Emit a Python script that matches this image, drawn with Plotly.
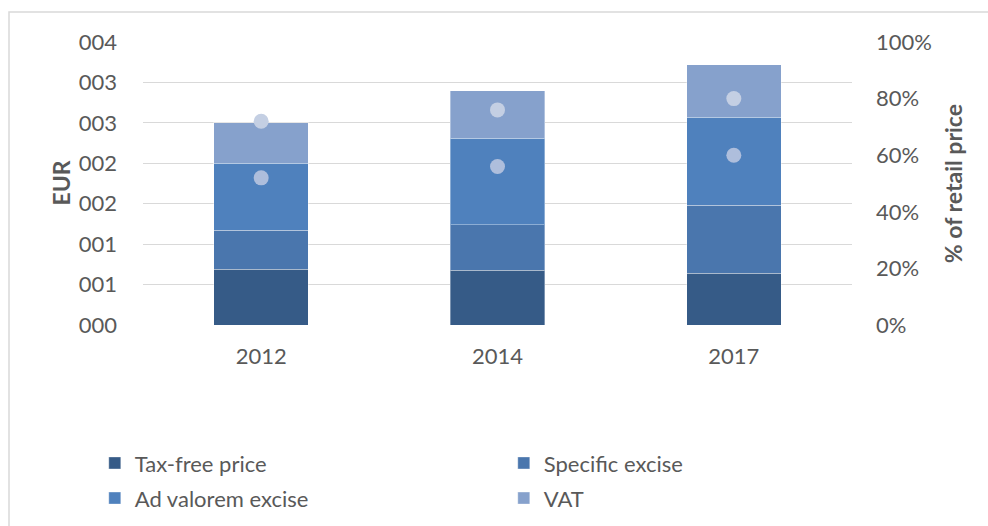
import plotly.graph_objects as go

# Retail price breakdown (EUR) and tax shares (% of retail price)
years = ["2012", "2014", "2017"]
tax_free_price = [0.69, 0.68, 0.64]
specific_excise = [0.48, 0.56, 0.84]
ad_valorem_excise = [0.83, 1.07, 1.09]
vat = [0.50, 0.59, 0.65]
total_tax_share = [0.72, 0.76, 0.80]
excise_share = [0.52, 0.56, 0.60]

eur_ticks = [0, 0.5, 1, 1.5, 2, 2.5, 3, 3.5]
eur_ticktext = ["000", "001", "001", "002", "002", "003", "003", "004"]
pct_ticks = [0, 0.2, 0.4, 0.6, 0.8, 1.0]
pct_ticktext = ["0%", "20%", "40%", "60%", "80%", "100%"]

FONT = "Lato, 'Open Sans', sans-serif"
GREY = "#595959"

fig = go.Figure()

# Two legend rows: first two series in the upper row, last two in the lower row
bar_series = [
    ("Tax-free price", tax_free_price, "#365b87", "legend"),
    ("Specific excise", specific_excise, "#4a76ad", "legend"),
    ("Ad valorem excise", ad_valorem_excise, "#4f81bd", "legend2"),
    ("VAT", vat, "#86a1cc", "legend2"),
]
for name, vals, color, leg in bar_series:
    fig.add_trace(go.Bar(
        x=years, y=vals, name=name, legend=leg,
        marker=dict(color=color, line=dict(color="rgba(255,255,255,0.35)", width=1)),
        yaxis="y",
    ))

fig.add_trace(go.Scatter(
    x=years, y=total_tax_share, mode="markers", yaxis="y2", showlegend=False,
    marker=dict(size=15, color="#c4cfe3"),
))
fig.add_trace(go.Scatter(
    x=years, y=excise_share, mode="markers", yaxis="y2", showlegend=False,
    marker=dict(size=15, color="#aebedc"),
))

legend_style = dict(
    orientation="h", x=-0.068, xanchor="left", yanchor="top",
    entrywidth=364, font=dict(size=22, color=GREY),
    traceorder="normal", itemclick=False, bgcolor="rgba(0,0,0,0)",
)

fig.update_layout(
    width=988, height=526,
    margin=dict(l=143, r=136, t=42, b=201, autoexpand=False),
    paper_bgcolor="white", plot_bgcolor="white",
    barmode="stack", bargap=0.6,
    font=dict(family=FONT, size=22, color=GREY),
    xaxis=dict(
        type="category", showgrid=False, showline=False, zeroline=False,
        ticks="", ticklabelstandoff=16, tickfont=dict(size=22, color=GREY),
    ),
    yaxis=dict(
        range=[0, 3.5], tickvals=eur_ticks, ticktext=eur_ticktext,
        showgrid=True, gridcolor="#d9d9d9", gridwidth=1.3,
        zeroline=False, showline=False, ticks="",
        ticklabelstandoff=25, tickfont=dict(size=22, color=GREY),
    ),
    yaxis2=dict(
        range=[0, 1.0], tickvals=pct_ticks, ticktext=pct_ticktext,
        overlaying="y", side="right", showgrid=False, zeroline=False,
        showline=False, ticks="", ticklabelstandoff=23,
        tickfont=dict(size=22, color=GREY),
    ),
    legend=dict(legend_style, y=-0.414),
    legend2=dict(legend_style, y=-0.538),
    annotations=[
        dict(text="<b>EUR</b>", x=-0.117, y=0.5, xref="paper", yref="paper",
             xanchor="center", yanchor="middle",
             textangle=-90, showarrow=False, font=dict(size=23, color=GREY)),
        dict(text="<b>% of retail price</b>", x=1.142, y=0.5, xref="paper", yref="paper",
             xanchor="center", yanchor="middle",
             textangle=-90, showarrow=False, font=dict(size=23, color=GREY)),
    ],
    shapes=[
        dict(type="rect", xref="paper", yref="paper",
             x0=-0.189, x1=1.3, y0=-0.9, y1=1.106,
             line=dict(color="#d9d9d9", width=1.5), fillcolor="rgba(0,0,0,0)",
             layer="below"),
    ],
)

fig.write_html("out.html")
